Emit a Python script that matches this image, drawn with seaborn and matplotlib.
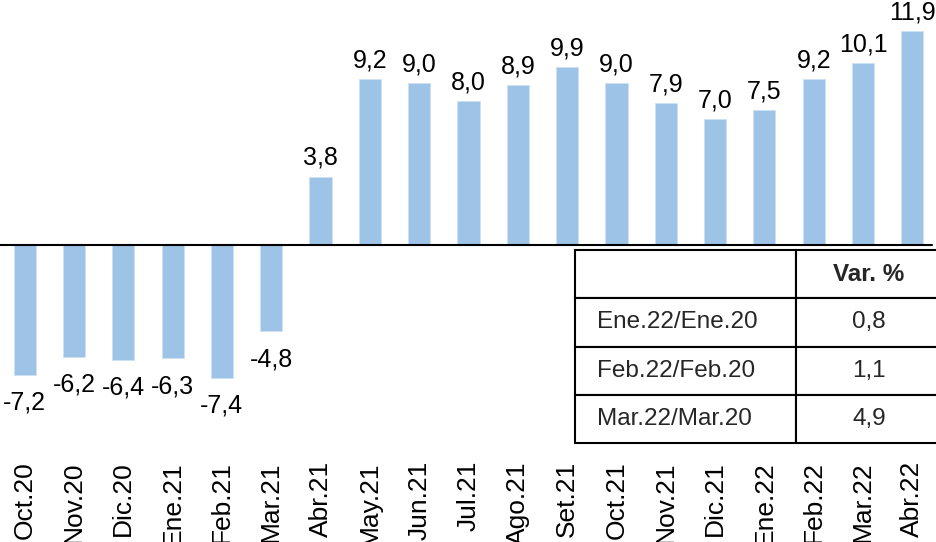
import numpy as np
import pandas as pd
import matplotlib
matplotlib.use("Agg")
import matplotlib.pyplot as plt
import seaborn as sns

meses = ['Oct.20', 'Nov.20', 'Dic.20', 'Ene.21', 'Feb.21', 'Mar.21', 'Abr.21',
         'May.21', 'Jun.21', 'Jul.21', 'Ago.21', 'Set.21', 'Oct.21', 'Nov.21',
         'Dic.21', 'Ene.22', 'Feb.22', 'Mar.22', 'Abr.22']
var_pct = [-7.2, -6.2, -6.4, -6.3, -7.4, -4.8, 3.8, 9.2, 9.0, 8.0, 8.9, 9.9,
           9.0, 7.9, 7.0, 7.5, 9.2, 10.1, 11.9]

tabla_filas = ['Ene.22/Ene.20', 'Feb.22/Feb.20', 'Mar.22/Mar.20']
tabla_vals = [0.8, 1.1, 4.9]
tabla_header = ['', 'Var. %']

sns.set_theme(style='white')
plt.rcParams['font.family'] = ['Liberation Sans', 'DejaVu Sans']

df = pd.DataFrame({'mes': meses, 'var': var_pct})

def fmt(v):
    return f"{v:.1f}".replace('.', ',')

fig = plt.figure(figsize=(9.37, 5.42), dpi=100)
ax = fig.add_axes([0, 92 / 542, 1, 450 / 542])

sns.barplot(data=df, x='mes', y='var', color='#9dc3e6', saturation=1,
            width=0.45, edgecolor='#cfe2f3', linewidth=0.6, ax=ax)

ax.set_xlim(-0.5, 18.5)
ax.set_ylim(-11.39, 13.61)
ax.axhline(0, color='black', lw=1.5, xmin=0, xmax=932 / 937, zorder=3)

for i, v in enumerate(var_pct):
    dy = 13.5 if v > 0 else -20
    ax.annotate(fmt(v), (i, v), xytext=(0, dy), textcoords='offset points',
                ha='center', va='center', fontsize=18, color='black')

ax.set_xlabel('')
ax.set_ylabel('')
ax.set_yticks([])
ax.tick_params(axis='x', length=0, pad=8, labelsize=19, rotation=90, colors='black')
for s in ax.spines.values():
    s.set_visible(False)

# tabla de variaciones
celdas = [tabla_header] + [[f, fmt(v)] for f, v in zip(tabla_filas, tabla_vals)]
x0 = 575 / 937
y0 = (450 - 443) / 450
tb = ax.table(cellText=celdas, cellLoc='center', colWidths=[220, 145],
              bbox=[x0, y0, 367 / 937, 193 / 450])
tb.auto_set_font_size(False)
tb.set_fontsize(17.5)
for (r, c), cell in tb.get_celld().items():
    cell.set_linewidth(1.5)
    cell.set_edgecolor('black')
    cell.set_facecolor('white')
    if c == 1:
        cell.visible_edges = 'BTL'
    if c == 0 and r > 0:
        cell.set_text_props(ha='left')
        cell.PAD = 0.1
    if r == 0:
        cell.set_text_props(fontweight='bold')

fig.savefig('out.png', dpi=100)
